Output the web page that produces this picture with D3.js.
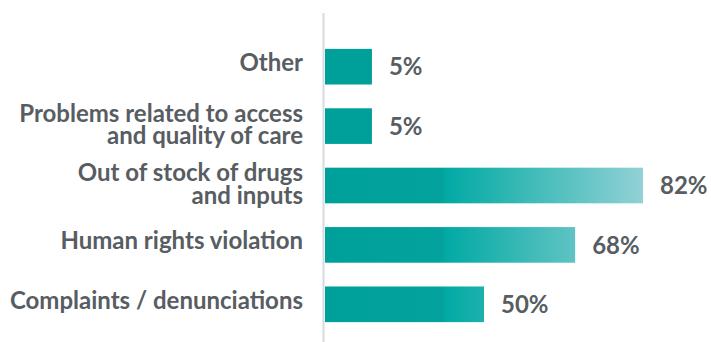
<!DOCTYPE html>
<html>
<head>
<meta charset="utf-8">
<script src="https://cdn.jsdelivr.net/npm/d3@7"></script>
<style>
  body { margin: 0; background: #fff; }
  text { font-family: Lato, "Open Sans", sans-serif; font-weight: 700; fill: #575d62; }
</style>
</head>
<body>
<div id="chart"></div>
<script>
// categories, top to bottom (multi-line labels split into lines)
const categories = [
  ["Other"],
  ["Problems related to access", "and quality of care"],
  ["Out of stock of drugs", "and inputs"],
  ["Human rights violation"],
  ["Complaints / denunciations"]
];
// printed values
const valueLabels = ["5%", "5%", "82%", "68%", "50%"];
// bar lengths as drawn in the picture (same units as the 82% bar)
const barLengths = [12.1, 12.1, 82, 64.5, 41];

const width = 711, height = 342;
const margins = { top: 37, bottom: 8, left: 325, right: 68 };

const svg = d3.select("#chart")
  .append("svg")
  .attr("width", width)
  .attr("height", height);

const ids = categories.map((d, i) => i);

const yScale = d3.scaleBand()
  .domain(ids)
  .range([margins.top, height - margins.bottom])
  .paddingInner(0.4)
  .paddingOuter(0.2);

const xScale = d3.scaleLinear()
  .domain([0, 82])
  .range([margins.left, width - margins.right]);

// gradient runs across the plot, so longer bars get lighter ends
const defs = svg.append("defs");
const grad = defs.append("linearGradient")
  .attr("id", "barGrad")
  .attr("gradientUnits", "userSpaceOnUse")
  .attr("x1", xScale(0)).attr("x2", xScale(82))
  .attr("y1", 0).attr("y2", 0);
grad.append("stop").attr("offset", 0).attr("stop-color", "#00a09a");
grad.append("stop").attr("offset", 0.37).attr("stop-color", "#04a29c");
grad.append("stop").attr("offset", 0.38).attr("stop-color", "#02aaa5");
grad.append("stop").attr("offset", 0.5).attr("stop-color", "#1db1ac");
grad.append("stop").attr("offset", 1).attr("stop-color", "#91d1d5");

svg.selectAll("rect.bar")
  .data(ids)
  .join("rect")
  .attr("class", "bar")
  .attr("x", xScale(0))
  .attr("y", i => yScale(i))
  .attr("width", i => xScale(barLengths[i]) - xScale(0))
  .attr("height", yScale.bandwidth())
  .attr("fill", i => barLengths[i] < 20 ? "#00a09a" : "url(#barGrad)");

// vertical axis line
svg.append("line")
  .attr("x1", xScale(0) - 1.5).attr("x2", xScale(0) - 1.5)
  .attr("y1", 13).attr("y2", height)
  .attr("stroke", "#d8dae0")
  .attr("stroke-width", 2);

// category labels
const lineH = 22.7;
svg.selectAll("text.cat")
  .data(ids)
  .join("text")
  .attr("class", "cat")
  .attr("text-anchor", "end")
  .attr("font-size", 24)
  .attr("x", 303)
  .attr("y", i => yScale(i) + yScale.bandwidth() / 2 + 4.5 - (categories[i].length - 1) * 9)
  .each(function(i) {
    const t = d3.select(this);
    categories[i].forEach((l, k) => {
      t.append("tspan")
        .attr("x", 303)
        .attr("dy", k === 0 ? 0 : lineH)
        .text(l);
    });
  });

// value labels
svg.selectAll("text.val")
  .data(ids)
  .join("text")
  .attr("class", "val")
  .attr("font-size", 24)
  .attr("x", i => xScale(barLengths[i]) + 17)
  .attr("y", i => yScale(i) + yScale.bandwidth() / 2)
  .attr("dy", "0.36em")
  .text(i => valueLabels[i]);
</script>
</body>
</html>
